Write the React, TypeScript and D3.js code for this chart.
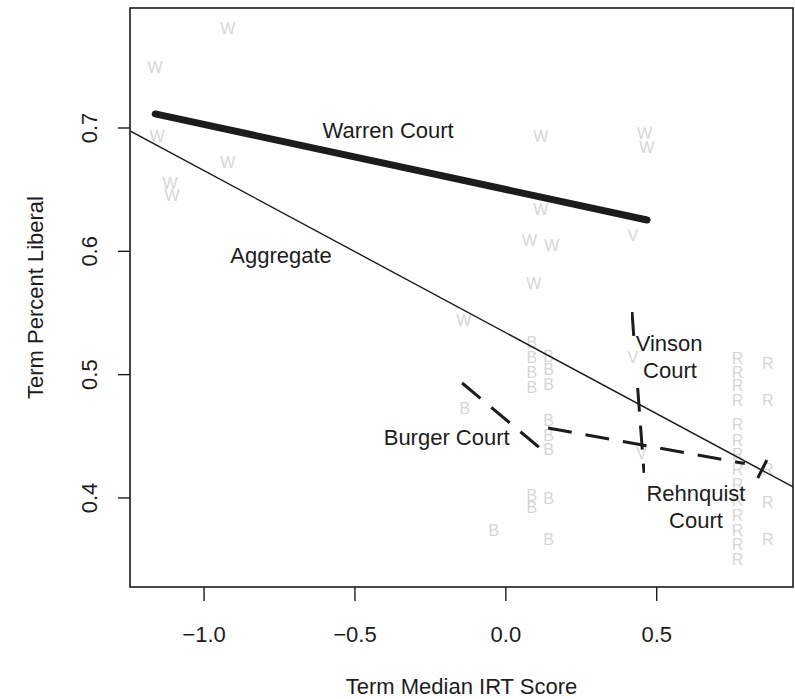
import React from "react";
import * as d3 from "d3";

// Term-level observations: [median IRT score, percent liberal]
const warrenTerms: [number, number][] = [
  [-0.921, 0.781], [-1.162, 0.749], [-1.156, 0.693], [-1.113, 0.655],
  [-1.106, 0.645], [-0.921, 0.672], [0.116, 0.693], [0.46, 0.696],
  [0.467, 0.684], [0.116, 0.634], [0.079, 0.609], [0.152, 0.605],
  [0.093, 0.574], [-0.139, 0.544],
];
const vinsonTerms: [number, number][] = [
  [0.421, 0.613], [0.421, 0.514], [0.45, 0.436],
];
const burgerTerms: [number, number][] = [
  [-0.136, 0.473], [0.086, 0.526], [0.086, 0.514], [0.086, 0.502],
  [0.086, 0.49], [0.086, 0.402], [0.086, 0.392], [0.142, 0.515],
  [0.142, 0.504], [0.142, 0.492], [0.142, 0.463], [0.142, 0.451],
  [0.142, 0.439], [0.142, 0.4], [0.142, 0.366], [-0.04, 0.374],
];
const rehnquistTerms: [number, number][] = [
  [0.768, 0.5135], [0.768, 0.502], [0.768, 0.491], [0.768, 0.479],
  [0.768, 0.46], [0.768, 0.447], [0.768, 0.435], [0.768, 0.423],
  [0.768, 0.411], [0.768, 0.398], [0.768, 0.386], [0.768, 0.374],
  [0.768, 0.362], [0.768, 0.35], [0.868, 0.509], [0.868, 0.479],
  [0.868, 0.423], [0.868, 0.396], [0.868, 0.366],
];

// Fitted lines
const aggregateCoef = [0.534, -0.1314]; // intercept, slope
const warrenFit: [number, number][] = [[-1.162, 0.7114], [0.468, 0.6254]];
const vinsonFit: [number, number][] = [[0.418, 0.5508], [0.458, 0.4203]];
const burgerFit: [number, number][] = [[-0.145, 0.4932], [0.113, 0.4405]];
const rehnquistFit: [number, number][] = [[0.14, 0.4568], [0.792, 0.428]];
const tailFit: [number, number][] = [[0.835, 0.4162], [0.865, 0.4308]];

const xTicks = [-1.0, -0.5, 0.0, 0.5];
const xTickLabels = ["\u22121.0", "\u22120.5", "0.0", "0.5"];
const yTicks = [0.4, 0.5, 0.6, 0.7];
const yTickLabels = ["0.4", "0.5", "0.6", "0.7"];

const labelText = ["Warren Court", "Aggregate", "Vinson", "Court", "Burger Court", "Rehnquist", "Court"];
const labelX = [-0.39, -0.745, 0.541, 0.544, -0.196, 0.63, 0.63];
const labelY = [0.6919, 0.5905, 0.5192, 0.4973, 0.443, 0.3976, 0.3757];

const W = 795;
const H = 699;
const left = 130, right = 793, top = 8, bottom = 587;
const FONT = "'Liberation Sans', Arial, Helvetica, sans-serif";
const INK = "#1c1c1c";
const FAINT = "#d6d6d6";

export default function App() {
  const x = d3.scaleLinear().domain([-1.2454, 0.9516]).range([left, right]);
  const y = d3.scaleLinear().domain([0.3278, 0.7973]).range([bottom, top]);
  const line = d3.line<[number, number]>().x((d) => x(d[0])).y((d) => y(d[1]));

  const [x0, x1] = x.domain();
  const aggregate: [number, number][] = [
    [x0, aggregateCoef[0] + aggregateCoef[1] * x0],
    [x1, aggregateCoef[0] + aggregateCoef[1] * x1],
  ];

  const pointSets: [string, [number, number][]][] = [
    ["W", warrenTerms],
    ["V", vinsonTerms],
    ["B", burgerTerms],
    ["R", rehnquistTerms],
  ];

  // Vinson label box hides the dashed line underneath it
  const vx = x(labelX[2]);
  const vTop = y(labelY[2]) - 12;
  const vBottom = y(labelY[3]) + 6;

  return (
    <svg
      width={W}
      height={H}
      style={{ position: "absolute", left: 0, top: 0, background: "#fff" }}
    >
      <defs>
        <clipPath id="plotClip">
          <rect x={left} y={top} width={right - left} height={bottom - top} />
        </clipPath>
        <mask id="vinsonMask">
          <rect x={0} y={0} width={W} height={H} fill="#fff" />
          <rect x={vx - 40} y={vTop} width={80} height={vBottom - vTop} fill="#000" />
        </mask>
      </defs>
      <rect width={W} height={H} fill="#fff" />

      {/* term letters */}
      <g fontFamily={FONT} fontSize={16} fill={FAINT} textAnchor="middle">
        {pointSets.map(([letter, pts]) =>
          pts.map((p, i) => (
            <text key={letter + i} x={x(p[0])} y={y(p[1])} dy="0.35em">
              {letter}
            </text>
          ))
        )}
      </g>

      {/* fitted lines */}
      <g clipPath="url(#plotClip)" fill="none" stroke={INK}>
        <path d={line(aggregate) ?? ""} strokeWidth={1.4} />
        <path d={line(warrenFit) ?? ""} strokeWidth={7} strokeLinecap="round" />
        <path
          d={line(vinsonFit) ?? ""}
          strokeWidth={3}
          strokeDasharray="24 14"
          mask="url(#vinsonMask)"
        />
        <path d={line(burgerFit) ?? ""} strokeWidth={3} strokeDasharray="24 14" />
        <path d={line(rehnquistFit) ?? ""} strokeWidth={3} strokeDasharray="24 14" />
        <path d={line(tailFit) ?? ""} strokeWidth={3} />
      </g>

      {/* annotations */}
      <g fontFamily={FONT} fontSize={22} fill={INK} textAnchor="middle">
        {labelText.map((t, i) => (
          <text key={i} x={x(labelX[i])} y={y(labelY[i])}>
            {t}
          </text>
        ))}
      </g>

      {/* frame */}
      <rect
        x={left}
        y={top}
        width={right - left}
        height={bottom - top}
        fill="none"
        stroke={INK}
        strokeWidth={1.6}
      />

      {/* x axis */}
      <g fontFamily={FONT} fontSize={22} fill={INK}>
        {xTicks.map((t, i) => (
          <g key={t}>
            <line x1={x(t)} x2={x(t)} y1={bottom} y2={bottom + 14} stroke={INK} strokeWidth={1.4} />
            <text x={x(t)} y={642} textAnchor="middle">
              {xTickLabels[i]}
            </text>
          </g>
        ))}
        <text x={(left + right) / 2} y={694} textAnchor="middle">
          Term Median IRT Score
        </text>
      </g>

      {/* y axis */}
      <g fontFamily={FONT} fontSize={22} fill={INK}>
        {yTicks.map((t, i) => (
          <g key={t}>
            <line x1={left - 12} x2={left} y1={y(t)} y2={y(t)} stroke={INK} strokeWidth={1.4} />
            <text
              transform={`translate(97,${y(t)}) rotate(-90)`}
              textAnchor="middle"
            >
              {yTickLabels[i]}
            </text>
          </g>
        ))}
        <text
          transform={`translate(43,${(top + bottom) / 2}) rotate(-90)`}
          textAnchor="middle"
        >
          Term Percent Liberal
        </text>
      </g>
    </svg>
  );
}
